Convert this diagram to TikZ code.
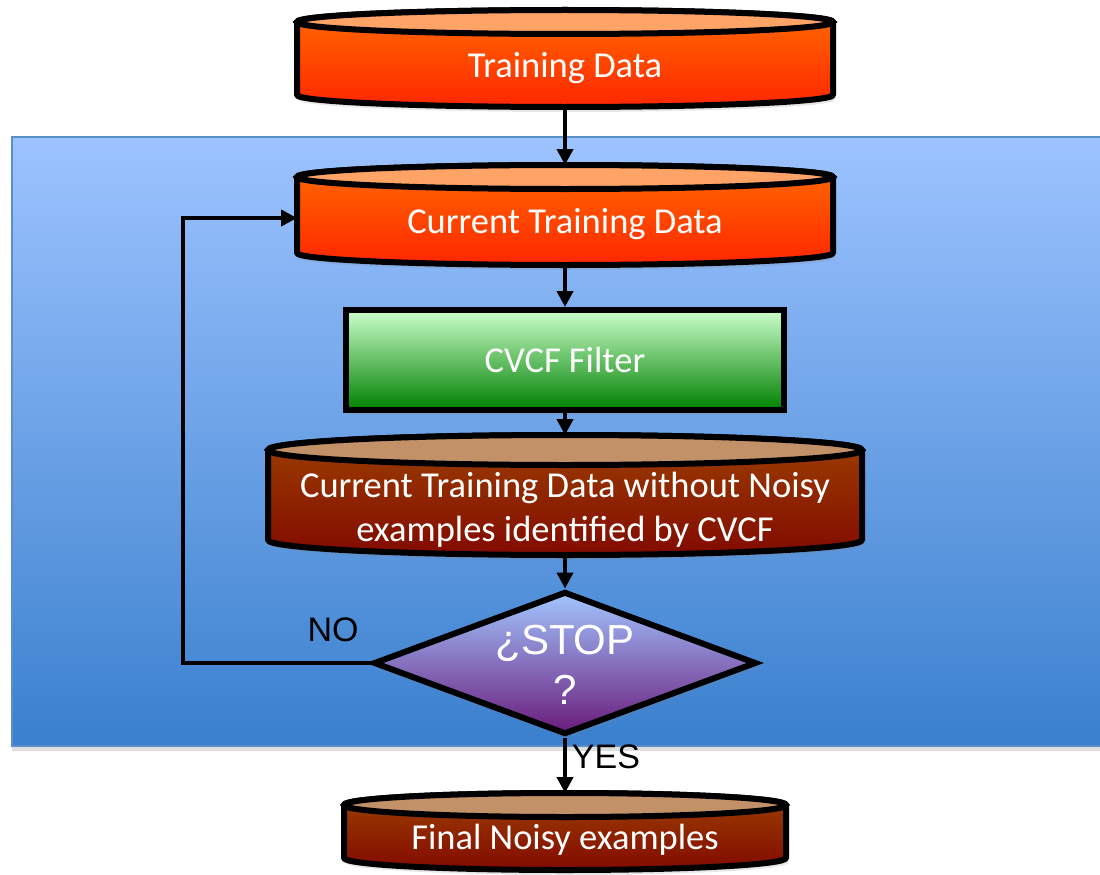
\documentclass[tikz,border=0pt]{standalone}
\usepackage{fontspec}
\setmainfont{Carlito}
\newfontfamily\arialf{Liberation Sans}
\usetikzlibrary{arrows.meta,shapes.geometric,shadows}
\definecolor{panelTop}{HTML}{9DC3FF}
\definecolor{panelBot}{HTML}{3A80CE}
\definecolor{panelLine}{HTML}{5B8FCB}
\definecolor{orTop}{HTML}{FFA366}
\definecolor{orBodyTop}{HTML}{FF6A00}
\definecolor{orBodyBot}{HTML}{FF2600}
\definecolor{brTop}{HTML}{C39168}
\definecolor{brBodyTop}{HTML}{9C4000}
\definecolor{brBodyBot}{HTML}{820A00}
\definecolor{grTop}{HTML}{CCFFCC}
\definecolor{grBot}{HTML}{008000}
\definecolor{diaTop}{HTML}{A2C6FF}
\definecolor{diaBot}{HTML}{6A1B7C}
\newcommand\dbcyl[7]{%
  \path[#7body, draw=black, line width=6pt, line join=round, softshadow]
    ({#2-#3},#4) -- ({#2-#3},#5) arc[start angle=180,end angle=360,x radius=#3pt,y radius=#6pt]
    -- ({#2+#3},#4) arc[start angle=0,end angle=180,x radius=#3pt,y radius=#6pt] -- cycle;
  \path[#7top, draw=black, line width=6pt] (#2,#4) ellipse[x radius=#3pt, y radius=#6pt];
  \node[inner sep=0pt, outer sep=0pt, minimum width={2*#3pt}, minimum height={(#5-#4+2*#6)*1pt}] (#1) at (#2,{(#4+#5)/2}) {};
}
\begin{document}
\begin{tikzpicture}[x=1pt,y=-1pt,
  softshadow/.style={drop shadow={shadow xshift=2pt, shadow yshift=-5pt, opacity=0.18}},
  panel/.style={top color=panelTop, bottom color=panelBot, draw=panelLine, line width=1.5pt,
    drop shadow={shadow xshift=0pt, shadow yshift=-5pt, opacity=0.25}},
  orangebody/.style={top color=orBodyTop, bottom color=orBodyBot},
  orangetop/.style={fill=orTop},
  brownbody/.style={top color=brBodyTop, bottom color=brBodyBot},
  browntop/.style={fill=brTop},
  cyltext/.style={text=white, font=\fontsize{36.5}{44}\selectfont, align=center, inner sep=0pt},
  filterbox/.style={rectangle, draw=black, line width=6pt, top color=grTop, bottom color=grBot,
    text=white, font=\fontsize{36.5}{44}\selectfont, inner sep=0pt, softshadow},
  decision/.style={diamond, draw=black, line width=6pt, line join=miter, top color=diaTop, bottom color=diaBot, inner sep=0pt, softshadow},
  dectext/.style={text=white, font=\arialf\fontsize{42}{50}\selectfont, align=center, inner sep=0pt},
  conn/.style={draw=black, line width=4.5pt, -{Triangle[length=16pt,width=16pt]}},
  lbl/.style={text=black, font=\arialf\fontsize{34}{38}\selectfont, inner sep=0pt}
]
\useasboundingbox (0,0) rectangle (1100,875);
\fill[white] (0,0) rectangle (1100,875);
\path[panel] (12,137) rectangle (1106,746);

\dbcyl{td}{565}{268}{22}{95}{12}{orange}
\node[cyltext] (tdt) at (565,68) {Training Data};

\dbcyl{ctd}{565}{268}{177}{253}{12}{orange}
\node[cyltext] (ctdt) at (565,224) {Current Training Data};

\node[filterbox, minimum width=438pt, minimum height=100pt] (cvcf) at (565,360) {CVCF Filter};

\dbcyl{ctw}{565}{297}{450}{540}{15}{brown}
\node[cyltext] (ctwt) at (565,510) {Current Training Data without Noisy\\examples identified by CVCF};

\node[decision, minimum width=383pt, minimum height=143pt] (dia) at (565,663) {};
\node[dectext] (diat) at (565,665) {¿STOP\\?};

\dbcyl{fin}{565}{221}{805}{858}{12}{brown}
\node[cyltext] (fint) at (565,840) {Final Noisy examples};

\draw[conn] (td.south) -- (ctd.north);
\draw[conn] (ctd.south) -- (cvcf.north);
\draw[conn] (cvcf.south) -- (ctw.north);
\draw[conn] (ctw.south) -- (dia.north);
\draw[conn] (dia.south) -- (fin.north);
\coordinate (lp) at (183,663);
\draw[conn] (dia.west) -- (lp) |- ([yshift=-3pt]ctd.west);

\node[lbl] (no) at (333,630) {NO};
\node[lbl] (yes) at (606,757) {YES};
\end{tikzpicture}
\end{document}
